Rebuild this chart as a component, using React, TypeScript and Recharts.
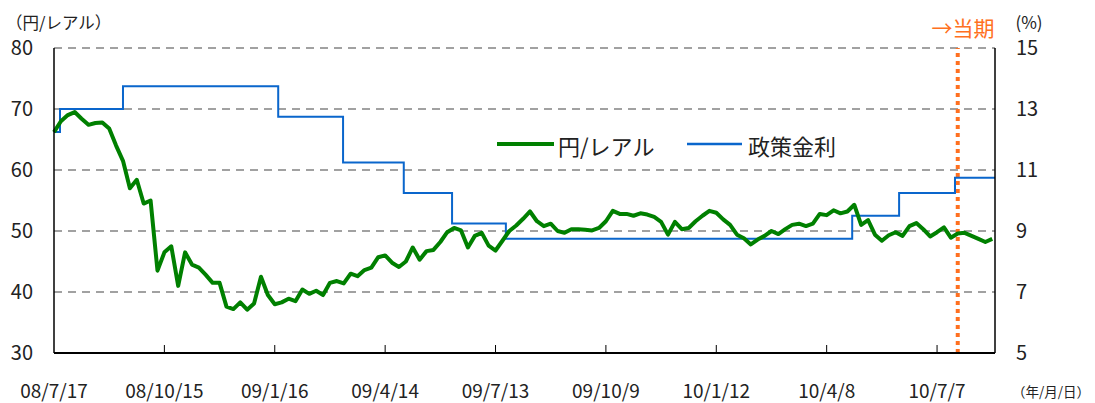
import React from 'react';
import { LineChart, Line, XAxis, YAxis, CartesianGrid, ReferenceLine } from 'recharts';

const FONT = "'Noto Sans CJK JP', 'Noto Sans', sans-serif";
const GREEN = '#008000';
const BLUE = '#0A66CC';
const ORANGE = '#FF7020';

// x positions are point indices (16 points between date ticks)
const tickIdx = [0, 16, 32, 48, 64, 80, 96, 112, 128];
const tickDates = ['08/7/17', '08/10/15', '09/1/16', '09/4/14', '09/7/13', '09/10/9', '10/1/12', '10/4/8', '10/7/7'];

// 円/レアル
const fxValues = [
  66.2, 68.0, 69.0, 69.5, 68.4, 67.4, 67.7, 67.8, 66.8, 64.0,
  61.5, 57.0, 58.4, 54.5, 55.0, 43.5, 46.5, 47.5, 41.0, 46.5,
  44.5, 44.0, 42.8, 41.5, 41.5, 37.6, 37.2, 38.3, 37.1, 38.1,
  42.5, 39.5, 38.0, 38.3, 38.9, 38.5, 40.4, 39.7, 40.2, 39.5,
  41.5, 41.8, 41.4, 43.0, 42.6, 43.6, 44.0, 45.7, 46.0, 44.8,
  44.1, 45.0, 47.3, 45.3, 46.7, 46.9, 48.2, 49.8, 50.5, 50.1,
  47.3, 49.2, 49.7, 47.6, 46.8, 48.4, 50.0, 50.9, 52.0, 53.2,
  51.6, 50.8, 51.2, 50.0, 49.7, 50.3, 50.3, 50.2, 50.1, 50.5,
  51.6, 53.3, 52.8, 52.8, 52.5, 52.9, 52.7, 52.3, 51.5, 49.4,
  51.5, 50.3, 50.5, 51.6, 52.5, 53.3, 53.0, 51.9, 51.0, 49.4,
  48.8, 47.8, 48.6, 49.2, 50.0, 49.5, 50.3, 51.0, 51.2, 50.8,
  51.2, 52.8, 52.6, 53.4, 52.9, 53.2, 54.3, 51.0, 51.8, 49.4,
  48.4, 49.3, 49.8, 49.2, 50.8, 51.3, 50.3, 49.1, 49.8, 50.6,
  48.9, 49.6, 49.7, 49.2, 48.7, 48.2, 48.7,
];

// 政策金利 (%): change points
const rateIdx = [0, 0.87, 10.0, 32.5, 41.9, 50.7, 57.7, 65.5, 115.7, 122.5, 130.6, 136.4];
const rateValues = [12.25, 13.0, 13.75, 12.75, 11.25, 10.25, 9.25, 8.75, 9.5, 10.25, 10.75, 10.75];

const currentIdx = 131;

const fxData = fxValues.map((v, i) => ({ i, fx: v }));
const rateData = rateIdx.map((d, k) => ({ i: d, rate: rateValues[k] }));

const XTick = (props: any) => {
  const { x, y, payload } = props;
  const label = tickDates[Math.round(payload.value / 16)];
  return (
    <g>
      {payload.value > 0 && <line x1={x} y1={y} x2={x} y2={y - 8} stroke="#000" strokeWidth={1} />}
      <text x={x} y={y + 45} textAnchor="middle" fontSize={19} fill="#222" fontFamily={FONT}>{label}</text>
    </g>
  );
};

export default function App() {
  return (
    <div style={{ position: 'absolute', left: 0, top: 0, width: 1095, height: 403, background: '#fff', fontFamily: FONT }}>
      <LineChart width={1095} height={403} data={fxData} margin={{ top: 48, right: 0, bottom: 0, left: 0 }}>
        <CartesianGrid yAxisId="left" vertical={false} stroke="#444" strokeWidth={1.2} strokeDasharray="8 6" />
        <XAxis
          dataKey="i" type="number" domain={[0, 136.4]} ticks={tickIdx} interval={0}
          height={50} tickSize={0} tickMargin={0} tickLine={false}
          axisLine={{ stroke: '#000', strokeWidth: 2 }} tick={<XTick />}
        />
        <YAxis
          yAxisId="left" domain={[30, 80]} ticks={[30, 40, 50, 60, 70, 80]} width={54}
          tickSize={0} tickMargin={21} tickLine={false}
          axisLine={{ stroke: '#000', strokeWidth: 1.5 }}
          tick={{ fontSize: 20, fill: '#222', fontFamily: FONT }}
        />
        <YAxis
          yAxisId="right" orientation="right" domain={[5, 15]} ticks={[5, 7, 9, 11, 13, 15]} width={100}
          tickSize={0} tickMargin={21} tickLine={false}
          axisLine={{ stroke: '#000', strokeWidth: 1.5 }}
          tick={{ fontSize: 20, fill: '#222', fontFamily: FONT, textAnchor: 'start' }}
        />
        <ReferenceLine yAxisId="left" x={currentIdx} stroke={ORANGE} strokeWidth={4} strokeDasharray="4 4" />
        <Line
          yAxisId="right" data={rateData} dataKey="rate" type="stepAfter"
          stroke={BLUE} strokeWidth={2} dot={false} isAnimationActive={false}
        />
        <Line
          yAxisId="left" dataKey="fx" type="linear" stroke={GREEN} strokeWidth={4}
          strokeLinejoin="round" dot={false} isAnimationActive={false}
        />
      </LineChart>
      <svg width={1095} height={403} style={{ position: 'absolute', left: 0, top: 0, pointerEvents: 'none' }}>
        <g fontFamily={FONT} fill="#222">
          <text x={6} y={22} fontSize={16.5} dominantBaseline="central">（円/レアル）</text>
          <text x={1029} y={21} fontSize={17} textAnchor="middle" dominantBaseline="central">(%)</text>
          <text x={963} y={27} fontSize={21} textAnchor="middle" dominantBaseline="central" fill={ORANGE}>→当期</text>
          <text x={1090} y={391} fontSize={13.5} textAnchor="end" dominantBaseline="central">（年/月/日）</text>
          <line x1={497} y1={144} x2={554} y2={144} stroke={GREEN} strokeWidth={4} />
          <text x={558} y={145} fontSize={22} dominantBaseline="central">円/レアル</text>
          <line x1={687} y1={144} x2={742} y2={144} stroke={BLUE} strokeWidth={2.5} />
          <text x={748} y={145} fontSize={22} dominantBaseline="central">政策金利</text>
        </g>
      </svg>
    </div>
  );
}
